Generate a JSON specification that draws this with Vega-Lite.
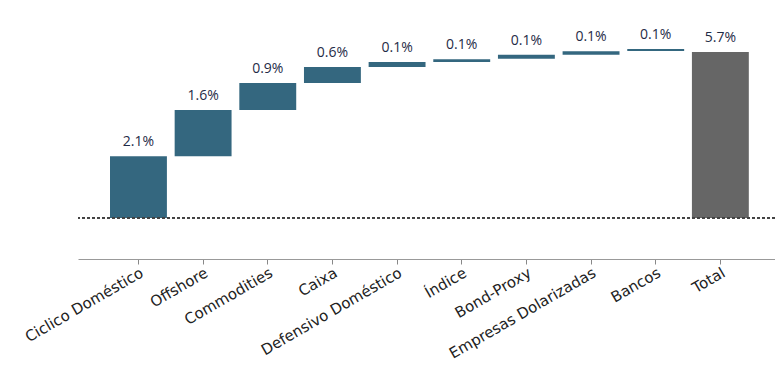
{
  "$schema": "https://vega.github.io/schema/vega-lite/v6.json",
  "autosize": {"type": "none"},
  "padding": {"left": 78, "top": 0, "right": 0, "bottom": 108},
  "width": 697,
  "height": 259,
  "background": "white",
  "config": {"view": {"stroke": null}},
  "data": {"values": [
    {"cat": "Ciclico Doméstico", "start": 0, "end": 2.12, "label": "2.1%", "kind": "step"},
    {"cat": "Offshore", "start": 2.12, "end": 3.71, "label": "1.6%", "kind": "step"},
    {"cat": "Commodities", "start": 3.71, "end": 4.635, "label": "0.9%", "kind": "step"},
    {"cat": "Caixa", "start": 4.635, "end": 5.185, "label": "0.6%", "kind": "step"},
    {"cat": "Defensivo Doméstico", "start": 5.185, "end": 5.357, "label": "0.1%", "kind": "step"},
    {"cat": "Índice", "start": 5.357, "end": 5.45, "label": "0.1%", "kind": "step"},
    {"cat": "Bond-Proxy", "start": 5.474, "end": 5.611, "label": "0.1%", "kind": "step"},
    {"cat": "Empresas Dolarizadas", "start": 5.611, "end": 5.725, "label": "0.1%", "kind": "step"},
    {"cat": "Bancos", "start": 5.735, "end": 5.803, "label": "0.1%", "kind": "step"},
    {"cat": "Total", "start": 0, "end": 5.7, "label": "5.7%", "kind": "total"}
  ]},
  "layer": [
    {
      "mark": {"type": "bar"},
      "encoding": {
        "x": {"field": "cat", "type": "nominal", "sort": null,
          "scale": {"paddingInner": 0.12, "paddingOuter": 0.45, "align": 0.55},
          "axis": {"title": null, "labelAngle": -30, "labelFont": "DejaVu Sans", "labelFontSize": 15, "labelColor": "#222222", "domainColor": "#999999", "tickColor": "#888888", "tickSize": 5, "labelPadding": 1}},
        "y": {"field": "start", "type": "quantitative", "scale": {"domain": [-1.41, 7.49], "nice": false, "zero": false}, "axis": null},
        "y2": {"field": "end"},
        "color": {"field": "kind", "type": "nominal", "scale": {"domain": ["step", "total"], "range": ["#34677f", "#666666"]}, "legend": null}
      }
    },
    {
      "mark": {"type": "rule", "strokeDash": [3, 2], "color": "#444444", "strokeWidth": 0.7},
      "encoding": {"y": {"datum": 0, "type": "quantitative"}}
    },
    {
      "mark": {"type": "text", "baseline": "bottom", "dy": -7, "font": "Open Sans", "fontSize": 14, "color": "#1f2b47"},
      "encoding": {
        "x": {"field": "cat", "type": "nominal", "sort": null},
        "y": {"field": "end", "type": "quantitative"},
        "text": {"field": "label"}
      }
    }
  ]
}
